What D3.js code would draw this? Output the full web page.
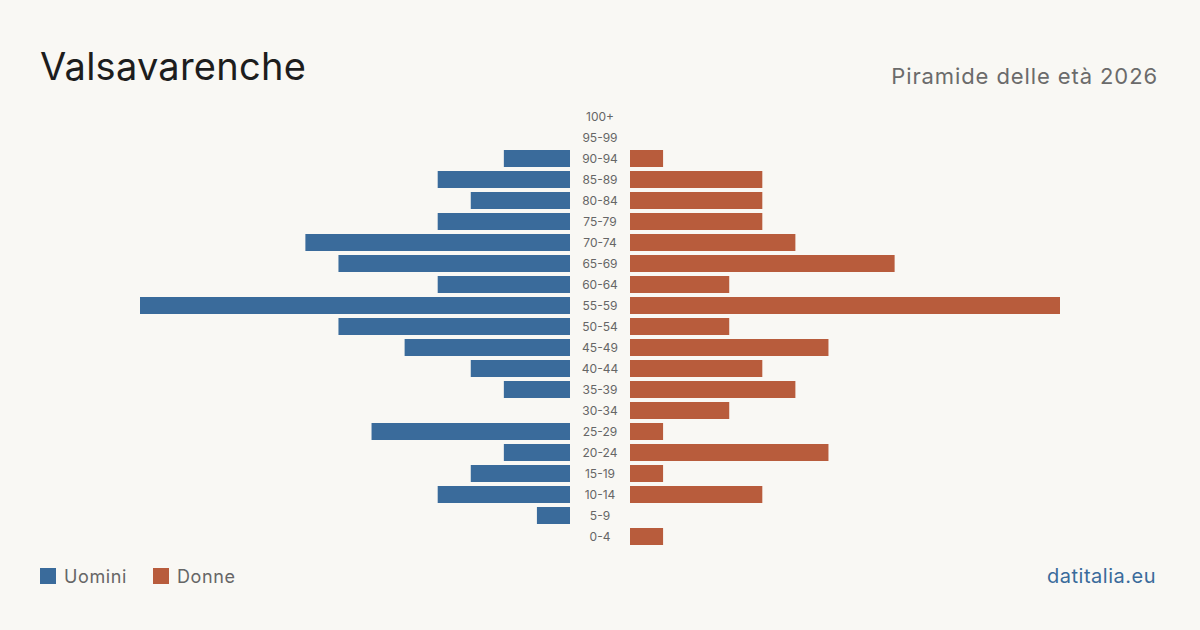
<!DOCTYPE html>
<html><head><meta charset="utf-8">
<script src="https://cdn.jsdelivr.net/npm/d3@7"></script>
<style>
body{margin:0;background:#f9f8f4;}
svg{display:block;font-family:Inter, "Noto Sans", sans-serif;}
</style></head>
<body>
<svg id="c" width="1200" height="630"></svg>
<script>
const ageGroups = ["100+","95-99","90-94","85-89","80-84","75-79","70-74","65-69","60-64","55-59","50-54","45-49","40-44","35-39","30-34","25-29","20-24","15-19","10-14","5-9","0-4"];
const men   = [0,0,2,4,3,4,8,7,4,13,7,5,3,2,0,6,2,3,4,1,0];
const women = [0,0,1,4,4,4,5,8,3,13,3,6,4,5,3,1,6,1,4,0,1];
const title = "Valsavarenche";
const subtitle = "Piramide delle età 2026";
const legendLabels = ["Uomini","Donne"];
const source = "datitalia.eu";

const colMen = "#3a6b9b", colWomen = "#b85c3c";
const svg = d3.select("#c");
svg.append("rect").attr("width",1200).attr("height",630).attr("fill","#f9f8f4");

svg.append("text").attr("x",40).attr("y",80).attr("font-size",38).attr("letter-spacing",0.25).attr("fill","#1d1d1d").text(title);
svg.append("text").attr("x",1158).attr("y",84).attr("text-anchor","end").attr("font-size",22).attr("letter-spacing",0.9).attr("fill","#6b6b6b").text(subtitle);

const y = d3.scaleBand().domain(ageGroups).range([106,547]).paddingInner(4/21).paddingOuter(2/21);
const w = d3.scaleLinear().domain([0,13]).range([0,430]);
const cxL = 570, cxR = 630;

svg.append("g").selectAll("rect").data(ageGroups).join("rect")
  .attr("x",(d,i)=>cxL - w(men[i])).attr("y",d=>y(d))
  .attr("width",(d,i)=>w(men[i])).attr("height",y.bandwidth()).attr("fill",colMen);
svg.append("g").selectAll("rect").data(ageGroups).join("rect")
  .attr("x",cxR).attr("y",d=>y(d))
  .attr("width",(d,i)=>w(women[i])).attr("height",y.bandwidth()).attr("fill",colWomen);

svg.append("g").selectAll("text").data(ageGroups).join("text")
  .attr("x",600).attr("y",d=>y(d)+y.bandwidth()/2).attr("dy","0.35em")
  .attr("text-anchor","middle").attr("font-size",12).attr("fill","#666").text(d=>d);

const leg = svg.append("g");
const lx = [40,153];
legendLabels.forEach((l,i)=>{
  leg.append("rect").attr("x",lx[i]).attr("y",568).attr("width",16).attr("height",16).attr("fill",i?colWomen:colMen);
  leg.append("text").attr("x",lx[i]+24).attr("y",583).attr("font-size",18).attr("letter-spacing",0.6).attr("fill","#666").text(l);
});
svg.append("text").attr("x",1156).attr("y",583).attr("text-anchor","end").attr("font-size",20).attr("letter-spacing",0.5).attr("fill","#3a6b9b").text(source);
</script>
</body></html>
